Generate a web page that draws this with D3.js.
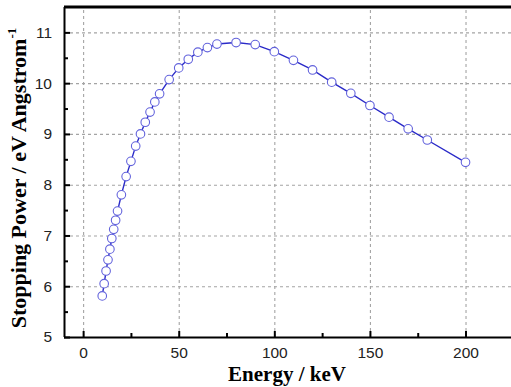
<!DOCTYPE html>
<html>
<head>
<meta charset="utf-8">
<script src="https://cdn.jsdelivr.net/npm/d3@7"></script>
<style>
  body { margin: 0; background: #fff; }
  svg { display: block; }
</style>
</head>
<body>
<svg id="chart" width="511" height="387"></svg>
<script>
// energy in keV and stopping power in eV/Angstrom
const energy = [10, 11, 12, 13, 14, 15, 16, 17, 18, 20, 22.5, 25, 27.5, 30, 32.5, 35, 37.5, 40, 45,
    50, 55, 60, 65, 70, 80, 90, 100, 110, 120, 130, 140, 150, 160, 170, 180, 200];
const power = [5.81, 6.05, 6.30, 6.52, 6.73, 6.94, 7.12, 7.30, 7.48, 7.80, 8.16, 8.46, 8.76, 9.00, 9.23, 9.43, 9.63, 9.79, 10.07,
    10.30, 10.47, 10.61, 10.70, 10.77, 10.80, 10.76, 10.62, 10.45, 10.26, 10.02, 9.80, 9.56, 9.33, 9.10, 8.88, 8.44];
const xTicks = [0, 50, 100, 150, 200];
const xMinor = [25, 75, 125, 175];
const yTicks = [5, 6, 7, 8, 9, 10, 11];
const yMinor = [5.5, 6.5, 7.5, 8.5, 9.5, 10.5];

const svg = d3.select("#chart");
const plotLeft = 64, plotTop = 7, plotBottom = 337, plotRight = 520;

const x = d3.scaleLinear().domain([-10, 230]).range([plotLeft, plotLeft + 240 * 1.912]);
const y = d3.scaleLinear().domain([5, 11.5]).range([plotBottom, plotTop]);

// grid lines, drawn with the axis generators
svg.append("g")
    .attr("transform", `translate(0,${plotBottom})`)
    .call(d3.axisBottom(x).tickValues(xTicks).tickSize(-(plotBottom - plotTop)).tickFormat(""))
    .call(g => g.select(".domain").remove())
    .call(g => g.selectAll(".tick line").attr("stroke", "#a4a4a4").attr("stroke-width", 1.1).attr("stroke-dasharray", "3,3"));
svg.append("g")
    .attr("transform", `translate(${plotLeft},0)`)
    .call(d3.axisLeft(y).tickValues(yTicks.filter(d => d > 5)).tickSize(-(plotRight - plotLeft)).tickFormat(""))
    .call(g => g.select(".domain").remove())
    .call(g => g.selectAll(".tick line").attr("stroke", "#a4a4a4").attr("stroke-width", 1.1).attr("stroke-dasharray", "3,3"));

// curve
const line = d3.line().x((d, i) => x(energy[i])).y(d => y(d));
svg.append("path")
    .datum(power)
    .attr("d", line)
    .attr("fill", "none")
    .attr("stroke", "#2a2ac8")
    .attr("stroke-width", 1.4);

svg.append("g").selectAll("circle")
    .data(power)
    .enter()
    .append("circle")
    .attr("cx", (d, i) => x(energy[i]))
    .attr("cy", d => y(d))
    .attr("r", 4.3)
    .attr("fill", "#fff")
    .attr("stroke", "#6262dc")
    .attr("stroke-width", 1.1);

// axes (ticks pointing inward)
const xAxis = svg.append("g")
    .attr("transform", `translate(0,${plotBottom})`)
    .call(d3.axisBottom(x).tickValues(xTicks).tickSize(-6).tickPadding(10).tickFormat(d3.format("d")));
const xMinorAxis = svg.append("g")
    .attr("transform", `translate(0,${plotBottom})`)
    .call(d3.axisBottom(x).tickValues(xMinor).tickSize(-4).tickFormat(""))
    .call(g => g.select(".domain").remove());

const yAxis = svg.append("g")
    .attr("transform", `translate(${plotLeft},0)`)
    .call(d3.axisLeft(y).tickValues(yTicks).tickSize(-6).tickPadding(12).tickFormat(d3.format("d")));
const yMinorAxis = svg.append("g")
    .attr("transform", `translate(${plotLeft},0)`)
    .call(d3.axisLeft(y).tickValues(yMinor).tickSize(-4).tickFormat(""))
    .call(g => g.select(".domain").remove());

[xAxis, yAxis].forEach(g => {
    g.select(".domain").attr("stroke", "#000").attr("stroke-width", 2);
    g.selectAll(".tick text").attr("font-family", "Liberation Sans, Arial, sans-serif")
        .attr("font-size", 15.5).attr("fill", "#222");
});
[xAxis, yAxis, xMinorAxis, yMinorAxis].forEach(g => {
    g.selectAll(".tick line").attr("stroke", "#000").attr("stroke-width", 2);
});
xAxis.select(".domain").attr("d", `M${plotLeft},0.5H${plotRight}`);
yAxis.select(".domain").attr("d", `M0.5,${plotBottom}V${plotTop}`);

// top border
svg.append("line")
    .attr("x1", plotLeft).attr("x2", plotRight).attr("y1", plotTop).attr("y2", plotTop)
    .attr("stroke", "#000").attr("stroke-width", 3);

// titles
svg.append("text")
    .attr("x", 287).attr("y", 381)
    .attr("text-anchor", "middle")
    .attr("font-family", "Liberation Serif, Times New Roman, serif")
    .attr("font-weight", "bold")
    .attr("font-size", 21)
    .text("Energy / keV");

const yl = svg.append("text")
    .attr("transform", "translate(26,178) rotate(-90)")
    .attr("text-anchor", "middle")
    .attr("font-family", "Liberation Serif, Times New Roman, serif")
    .attr("font-weight", "bold")
    .attr("font-size", 22);
yl.append("tspan").text("Stopping Power / eV Angstrom");
yl.append("tspan").attr("dy", -10).attr("font-size", 13).text("-1");
</script>
</body>
</html>
